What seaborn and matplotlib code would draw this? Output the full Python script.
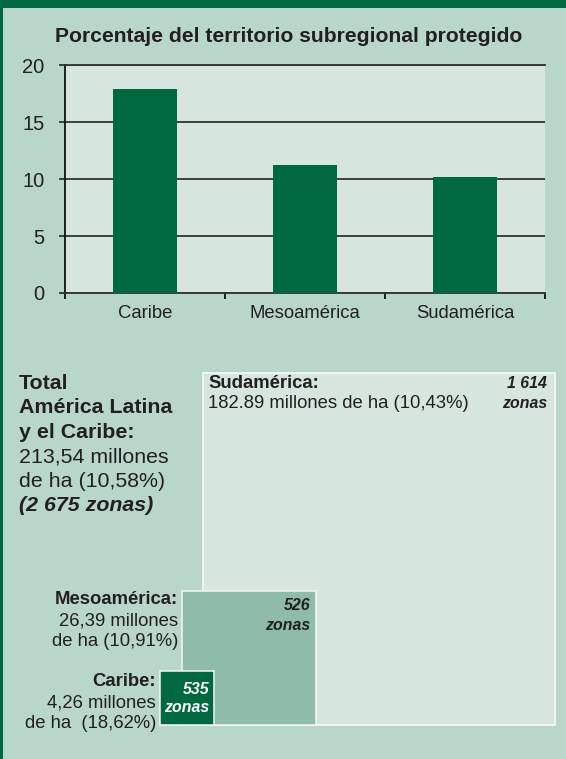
import matplotlib
matplotlib.use("Agg")
import matplotlib.pyplot as plt
import seaborn as sns
import numpy as np
import pandas as pd
from matplotlib.patches import Rectangle

# ---------------- data ----------------
categories = ["Caribe", "Mesoamérica", "Sudamérica"]
pct_protected = [17.9, 11.25, 10.2]
yticks = [0, 5, 10, 15, 20]
chart_title = "Porcentaje del territorio subregional protegido"

area_regions = ["Sudamérica", "Mesoamérica", "Caribe"]
area_mha = [182.89, 26.39, 4.26]
area_mha_text = ["182.89", "26,39", "4,26"]
area_pct_text = ["10,43%", "10,91%", "18,62%"]
zonas = ["1 614", "526", "535"]

total_lines = ["Total", "América Latina", "y el Caribe:",
               "213,54 millones", "de ha (10,58%)", "(2 675 zonas)"]

# ---------------- style ----------------
BG = "#B9D6CA"
PLOT = "#D6E6DF"
DARK = "#006940"
MID = "#8EBCA8"
TXT = "#231F20"
GRID = "#333333"

sns.set_theme(style="white")
plt.rcParams['font.family'] = ['Liberation Sans', 'DejaVu Sans']

W, H = 566, 759
fig = plt.figure(figsize=(W / 100, H / 100), dpi=100)
fig.patch.set_facecolor(BG)

# overlay in pixel coordinates
over = fig.add_axes([0, 0, 1, 1])
over.set_xlim(0, W)
over.set_ylim(H, 0)
over.axis('off')
over.patch.set_alpha(0)
over.add_patch(Rectangle((0, 0), W, 8, color=DARK, lw=0))
over.add_patch(Rectangle((0, 0), 2.5, H, color=DARK, lw=0))

# ---------------- bar chart ----------------
ax_l, ax_r, ax_t, ax_b = 65, 545, 65.3, 293
ax = fig.add_axes([ax_l / W, (H - ax_b) / H, (ax_r - ax_l) / W, (ax_b - ax_t) / H])
df = pd.DataFrame({"region": categories, "pct": pct_protected})
sns.barplot(data=df, x="region", y="pct", color=DARK, saturation=1,
            width=0.403, ax=ax, zorder=3, linewidth=0, edgecolor=DARK)
ax.set_facecolor(PLOT)
ax.set_xlim(-0.5, 2.5)
ax.set_ylim(0, 20)
ax.set_yticks(yticks)
ax.set_xlabel("")
ax.set_ylabel("")
ax.set_axisbelow(True)
ax.yaxis.grid(True, color=GRID, lw=1.3)
ax.xaxis.grid(False)
ax.spines["right"].set_visible(False)
ax.spines["top"].set_color(GRID)
ax.spines["top"].set_linewidth(1.3)
ax.spines["left"].set_color("#111111")
ax.spines["left"].set_linewidth(1.3)
ax.spines["bottom"].set_color(GRID)
ax.spines["bottom"].set_linewidth(1.3)
ax.tick_params(axis='y', which='major', direction='out', length=4.3, width=1.3,
               color=GRID, labelsize=14.5, labelcolor=TXT, pad=10.5, left=True)
ax.tick_params(axis='x', which='major', length=0, labelsize=13.3, labelcolor=TXT, pad=9)
ax.set_xticks([-0.5, 0.5, 1.5, 2.5], minor=True)
ax.tick_params(axis='x', which='minor', direction='out', length=4.3, width=1.3,
               color="#111111", bottom=True)

fig.text(288.5 / W, 1 - 36 / H, chart_title, ha='center', va='center',
         fontsize=15.2, fontweight='bold', color=TXT)

# ---------------- nested squares ----------------
scale = 352 / np.sqrt(area_mha[0])
lefts = [203, 182, 160]
base_y = 725
fills = [PLOT, MID, DARK]
edge_w = [1.3, 1.1, 1.1]
for i, a in enumerate(area_mha):
    side = scale * np.sqrt(a)
    over.add_patch(Rectangle((lefts[i], base_y - side), side, side,
                             facecolor=fills[i], edgecolor="#F4F8F6",
                             lw=edge_w[i], zorder=2 + i))

fs = 13.3
# Sudamérica
over.text(208, 388.5, area_regions[0] + ":", fontsize=fs, fontweight='bold',
          color=TXT, ha='left', va='baseline', zorder=10)
over.text(208, 408.5, f"{area_mha_text[0]} millones de ha ({area_pct_text[0]})",
          fontsize=fs, color=TXT, ha='left', va='baseline', zorder=10)
over.text(547, 388.5, zonas[0], fontsize=11.4, fontweight='bold', style='italic',
          color=TXT, ha='right', va='baseline', zorder=10)
over.text(547, 408.5, "zonas", fontsize=11.4, fontweight='bold', style='italic',
          color=TXT, ha='right', va='baseline', zorder=10)

# Mesoamérica
over.text(178, 604.5, area_regions[1] + ":", fontsize=fs, fontweight='bold',
          color=TXT, ha='right', va='baseline', zorder=10)
over.text(178, 625, f"{area_mha_text[1]} millones", fontsize=fs, color=TXT,
          ha='right', va='baseline', zorder=10)
over.text(178, 645.5, f"de ha ({area_pct_text[1]})", fontsize=fs, color=TXT,
          ha='right', va='baseline', zorder=10)
over.text(310, 610.5, zonas[1], fontsize=11.4, fontweight='bold', style='italic',
          color=TXT, ha='right', va='baseline', zorder=10)
over.text(310, 629.5, "zonas", fontsize=11.4, fontweight='bold', style='italic',
          color=TXT, ha='right', va='baseline', zorder=10)

# Caribe
over.text(156, 686.5, area_regions[2] + ":", fontsize=fs, fontweight='bold',
          color=TXT, ha='right', va='baseline', zorder=10)
over.text(156, 707, f"{area_mha_text[2]} millones", fontsize=fs, color=TXT,
          ha='right', va='baseline', zorder=10)
over.text(156, 727.5, f"de ha  ({area_pct_text[2]})", fontsize=fs, color=TXT,
          ha='right', va='baseline', zorder=10)
over.text(209, 694.5, zonas[2], fontsize=11.4, fontweight='bold', style='italic',
          color="white", ha='right', va='baseline', zorder=10)
over.text(209, 712.5, "zonas", fontsize=11.4, fontweight='bold', style='italic',
          color="white", ha='right', va='baseline', zorder=10)

# Total block
styles = [dict(fontweight='bold')] * 3 + [dict()] * 2 + [dict(fontweight='bold', style='italic')]
for i, (line, st) in enumerate(zip(total_lines, styles)):
    over.text(19, 389 + 24.4 * i, line, fontsize=15.4, color=TXT, ha='left',
              va='baseline', zorder=10, **st)

fig.savefig("out.png", dpi=100, facecolor=fig.get_facecolor())
